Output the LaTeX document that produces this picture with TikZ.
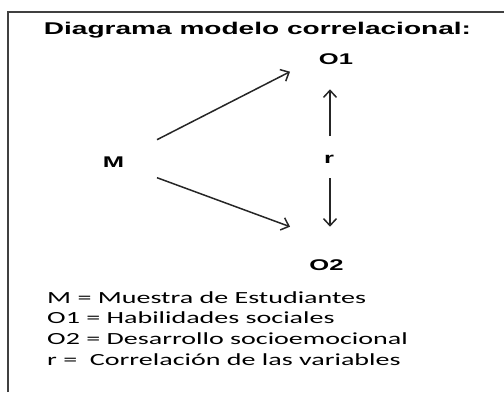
\documentclass[tikz,border=0pt]{standalone}
\usepackage{fontspec}
\setmainfont{Liberation Sans}
\newfontfamily\legendfont{Carlito}
\usepackage{graphicx}
\usetikzlibrary{arrows.meta}
\newcommand{\wide}[1]{\scalebox{1.65}[1]{#1}}

\begin{document}
\begin{tikzpicture}[x=1pt,y=1pt,
    varnode/.style={font=\fontsize{15.5}{17}\selectfont\bfseries, anchor=base, inner sep=0pt},
    legendline/.style={font=\legendfont\fontsize{17}{20}\selectfont, anchor=base west, inner sep=0pt},
    relarrow/.style={-{Straight Barb[length=7pt,width=13pt]}, line width=1.5pt, black!85}]
        \useasboundingbox (0,0) rectangle (504,392);
        % marco
        \draw[line width=1.5pt, black!75] (8,0) -- (8,380) -- (504,380);
        
        % titulo
        \node[font=\fontsize{17}{20}\selectfont\bfseries, anchor=base, inner sep=0pt] (title) at (257.5,357) {\wide{Diagrama modelo correlacional:}};
        
        % variables
        \node[varnode] (o1) at (336,327) {\wide{O1}};
        \node[varnode] (m) at (113.5,224.7) {\wide{M}};
        \node[varnode] (r) at (329,228.7) {\wide{r}};
        \node[varnode] (o2) at (326.5,122) {\wide{O2}};
        
        % flechas
        \draw[relarrow] ([shift={(43.5,27.6)}]m.base) -- ([shift={(-46,-6.7)}]o1.base);
        \draw[relarrow] ([shift={(43.5,-10.4)}]m.base) -- ([shift={(-36.5,43.3)}]o2.base);
        \draw[relarrow] ([shift={(1,27.3)}]r.base) -- ([shift={(-6,-24.3)}]o1.base);
        \draw[relarrow] ([shift={(1,-14.7)}]r.base) -- ([shift={(3.5,43.3)}]o2.base);
        
        % leyenda
        \node[legendline] (leg1) at (47,88.7) {\wide{M = Muestra de Estudiantes}};
        \node[legendline] (leg2) at (47,68.7) {\wide{O1 = Habilidades sociales}};
        \node[legendline] (leg3) at (47,48) {\wide{O2 = Desarrollo socioemocional}};
        \node[legendline] (leg4) at (47,27) {\wide{r =\ \ Correlación de las variables}};
    \end{tikzpicture}
\end{document}
